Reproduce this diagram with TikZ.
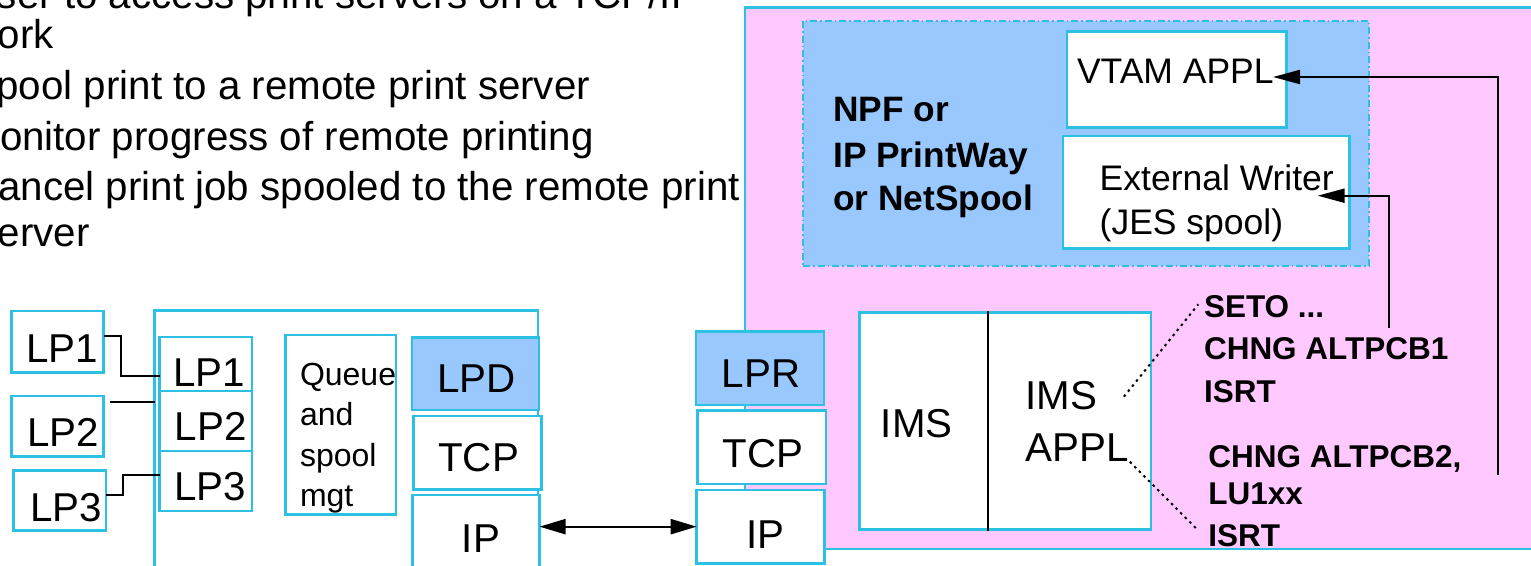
\documentclass[tikz,border=0pt]{standalone}
\usepackage{fontspec}
\setmainfont{Liberation Sans}
\usetikzlibrary{arrows.meta,calc}
\definecolor{cyanc}{RGB}{44,192,226}
\definecolor{pinkc}{RGB}{255,200,255}
\definecolor{bluec}{RGB}{153,200,255}
\tikzset{
  cbox/.style={draw=cyanc, line width=2.5pt, fill=white, rectangle, inner sep=0pt, outer sep=0pt, anchor=north west},
  bbox/.style={cbox, fill=bluec},
  txt/.style={inner sep=0pt, outer sep=0pt, font=\fontsize{40.3}{48}\selectfont},
  tmid/.style={inner sep=0pt, outer sep=0pt, font=\fontsize{35.5}{42}\selectfont},
  tsmall/.style={inner sep=0pt, outer sep=0pt, font=\fontsize{32}{40}\selectfont},
  tbold/.style={inner sep=0pt, outer sep=0pt, font=\fontsize{35.3}{42}\selectfont\bfseries},
  tcmd/.style={inner sep=0pt, outer sep=0pt, font=\fontsize{31.5}{38}\selectfont\bfseries},
  conn/.style={draw=black, line width=2pt},
  arr/.style={draw=black, line width=2.2pt, -{Triangle[length=27pt,width=14pt]}},
  darr/.style={draw=black, line width=2.2pt, {Triangle[length=26pt,width=15pt]}-{Triangle[length=26pt,width=15pt]}},
  dotln/.style={draw=black, line width=2pt, dash pattern=on 2.5pt off 4pt},
}
\begin{document}
\begin{tikzpicture}[x=1pt,y=-1pt]
\useasboundingbox (0,0) rectangle (1531,565);
\clip (0,0) rectangle (1531,565);

% bullet text (cut by the picture edge)
\node[txt, anchor=base west] (l1) at (-3,8) {ser to access print servers on a TCP/IP};
\node[txt, anchor=base west] (l2) at (-2,48) {ork};
\node[txt, anchor=base west] (l3) at (-3.5,99.5) {pool print to a remote print server};
\node[txt, anchor=base west] (l4) at (0,150) {onitor progress of remote printing};
\node[txt, anchor=base west] (l5) at (-1.5,200) {ancel print job spooled to the remote print};
\node[txt, anchor=base west] (l6) at (-2,246) {erver};

% right host area
\node[cbox, fill=pinkc, minimum width=900pt, minimum height=541.7pt] (host) at (745,7.3) {};
\node[draw=cyanc, line width=2pt, dash pattern=on 7pt off 3pt on 1.5pt off 3pt, fill=bluec, rectangle, inner sep=0pt, outer sep=0pt, anchor=north west, minimum width=566pt, minimum height=245pt] (npf) at (803,20.7) {};
\node[cbox, minimum width=219.4pt, minimum height=96pt] (vtam) at (1067,31.7) {};
\node[cbox, minimum width=286.5pt, minimum height=112.3pt] (extw) at (1063,136) {};
\node[cbox, minimum width=291.5pt, minimum height=217pt] (ims) at (859.5,312.3) {};
\coordinate (divt) at (987.8,310.7);
\coordinate (divb) at (987.8,530.7);
\draw[conn] (divt) -- (divb);

\node[tbold, anchor=base west] (npf1) at (833.3,121.5) {NPF or};
\node[tbold, anchor=base west] (npf2) at (833.3,167.5) {IP PrintWay};
\node[tbold, anchor=base west] (npf3) at (833.3,210) {or NetSpool};
\node[tmid, anchor=base west] (vtamt) at (1077,83.5) {VTAM APPL};
\node[tmid, anchor=base west] (ext1) at (1099.7,190) {External Writer};
\node[tmid, anchor=base west] (ext2) at (1099.7,234) {(JES spool)};
\node[txt, anchor=base] (imst) at (916.8,437.5) {IMS};
\node[txt, anchor=base west] (apl1) at (1025.4,409) {IMS};
\node[txt, anchor=base west] (apl2) at (1025.4,461) {APPL};

\node[tcmd, anchor=base west] (c1) at (1204,317) {SETO ...};
\node[tcmd, anchor=base west] (c2) at (1204,359.5) {CHNG ALTPCB1};
\node[tcmd, anchor=base west] (c3) at (1204,402.5) {ISRT};
\node[tcmd, anchor=base west] (c4) at (1208.3,467) {CHNG ALTPCB2,};
\node[tcmd, anchor=base west] (c5) at (1208.3,504) {LU1xx};
\node[tcmd, anchor=base west] (c6) at (1208.3,546.5) {ISRT};

\coordinate (d1a) at (1123.9,396.7);
\coordinate (d1b) at (1198.3,304.3);
\coordinate (d2a) at (1129.8,461.7);
\coordinate (d2b) at (1197.7,530);
\draw[dotln] (d1a) -- (d1b);
\draw[dotln] (d2a) -- (d2b);

\coordinate (vtsrc) at (1497.7,475);
\coordinate (vttip) at (1273,77);
\draw[arr] (vtsrc) |- (vttip);
\coordinate (ewsrc) at (1389.3,328);
\coordinate (ewtip) at (1317.7,195.7);
\draw[arr] (ewsrc) |- (ewtip);

% LPR stack
\node[bbox, minimum width=128pt, minimum height=73.3pt] (lpr) at (696,331.7) {};
\node[cbox, minimum width=128.3pt, minimum height=73.3pt] (tcpr) at (697.7,410.7) {};
\node[cbox, minimum width=127.6pt, minimum height=73.3pt] (ipr) at (696.7,490) {};
\node[txt, anchor=base] (lprt) at (761,387.5) {LPR};
\node[txt, anchor=base] (tcprt) at (763,467.5) {TCP};
\node[txt, anchor=base] (iprt) at (765.7,548) {IP};

% print server
\node[cbox, minimum width=383.4pt, minimum height=290pt] (server) at (154.6,310.3) {};
\node[cbox, minimum width=92.2pt, minimum height=54pt] (lp1i) at (159.6,337) {};
\node[cbox, minimum width=92.2pt, minimum height=60pt] (lp2i) at (159.6,391) {};
\node[cbox, minimum width=92.2pt, minimum height=60pt] (lp3i) at (159.6,451) {};
\node[cbox, minimum width=110.3pt, minimum height=179.7pt] (queue) at (285.7,335) {};
\node[bbox, minimum width=127.2pt, minimum height=72.7pt] (lpd) at (411.8,337.3) {};
\node[cbox, minimum width=128.2pt, minimum height=73.3pt] (tcpl) at (413.5,416) {};
\node[cbox, minimum width=127.2pt, minimum height=105pt] (ipl) at (412.3,495) {};
\node[txt, anchor=base] (lp1it) at (209,386.5) {LP1};
\node[txt, anchor=base] (lp2it) at (210.6,440) {LP2};
\node[txt, anchor=base] (lp3it) at (210,500) {LP3};
\node[tsmall, anchor=base west] (q1) at (300,385) {Queue};
\node[tsmall, anchor=base west] (q2) at (300,425.5) {and};
\node[tsmall, anchor=base west] (q3) at (300,466) {spool};
\node[tsmall, anchor=base west] (q4) at (300,506.5) {mgt};
\node[txt, anchor=base] (lpdt) at (476.6,392.5) {LPD};
\node[txt, anchor=base] (tcplt) at (478.6,471.5) {TCP};
\node[txt, anchor=base] (iplt) at (481,552) {IP};

% printers
\node[cbox, minimum width=92pt, minimum height=61.3pt] (lp1o) at (11.5,311) {};
\node[cbox, minimum width=92pt, minimum height=60.7pt] (lp2o) at (11.5,396) {};
\node[cbox, minimum width=92.4pt, minimum height=60.4pt] (lp3o) at (13.6,470.3) {};
\node[txt, anchor=base] (lp1ot) at (62,362) {LP1};
\node[txt, anchor=base] (lp2ot) at (63,446) {LP2};
\node[txt, anchor=base] (lp3ot) at (66,521) {LP3};

\draw[conn] ([yshift=5.7pt]lp1o.east) -- ++(17.8,0) |- ([yshift=-12.3pt]lp1i.west);
\coordinate (lp2c) at (109.6,402.3);
\draw[conn] (lp2c) -- (lp2c -| server.west);
\draw[conn] ([yshift=5.8pt]lp3o.east) -- ++(16.5,0) |- ([yshift=5.7pt]lp3i.west);

% network link
\draw[darr] (ipl.east |- ipr.west) -- (ipr.west);
\end{tikzpicture}
\end{document}
